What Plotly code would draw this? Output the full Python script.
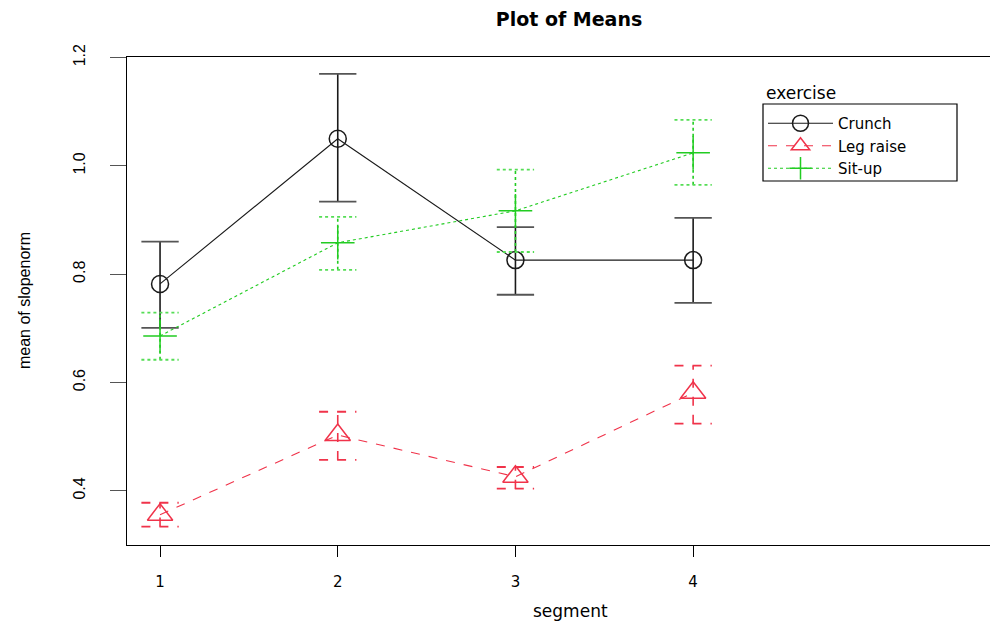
import plotly.graph_objects as go

segments = [1, 2, 3, 4]
tick_labels = ["1", "2", "3", "4"]

crunch_mean = [0.782, 1.050, 0.826, 0.826]
crunch_lo = [0.701, 0.934, 0.762, 0.747]
crunch_hi = [0.860, 1.170, 0.887, 0.904]

legraise_mean = [0.356, 0.503, 0.426, 0.581]
legraise_lo = [0.334, 0.457, 0.404, 0.524]
legraise_hi = [0.378, 0.546, 0.444, 0.631]

situp_mean = [0.686, 0.858, 0.917, 1.024]
situp_lo = [0.642, 0.808, 0.841, 0.965]
situp_hi = [0.729, 0.906, 0.993, 1.085]

CAP = 0.105
FONT_H = "DejaVu Sans"
FONT_V = "Liberation Sans"

series = [
    ("Crunch", crunch_mean, crunch_lo, crunch_hi, "#1a1a1a", "solid", "circle-open", 17, "#555555", "solid"),
    ("Leg raise", legraise_mean, legraise_lo, legraise_hi, "#f0334a", "dash", "triangle-up-open", 22, "#f0334a", "dash"),
    ("Sit-up", situp_mean, situp_lo, situp_hi, "#22cc22", "dot", "cross-thin-open", 24, "#55dd55", "dot"),
]

fig = go.Figure()

for name, m, lo, hi, col, dash, sym, size, capcol, edash in series:
    vx, vy, cx, cy = [], [], [], []
    for x, a, b in zip(segments, lo, hi):
        vx += [x, x, None]
        vy += [a, b, None]
        cx += [x - CAP, x + CAP, None, x - CAP, x + CAP, None]
        cy += [b, b, None, a, a, None]
    fig.add_trace(go.Scatter(x=vx, y=vy, mode="lines", showlegend=False, hoverinfo="skip",
                             line=dict(color=col, width=1.6, dash=edash)))
    fig.add_trace(go.Scatter(x=cx, y=cy, mode="lines", showlegend=False, hoverinfo="skip",
                             line=dict(color=capcol, width=1.8, dash=edash)))
    fig.add_trace(go.Scatter(x=segments, y=m, mode="lines+markers", name=name,
                             line=dict(color=col, width=1.1, dash=dash),
                             marker=dict(symbol=sym, size=size, color=col, line=dict(width=1.5, color=col))))

W, H = 990, 614
fig.update_layout(
    width=W, height=H,
    margin=dict(l=119, r=1, t=49, b=77),
    paper_bgcolor="white", plot_bgcolor="white",
    title=dict(text="<b>Plot of Means</b>", x=561 / W, xanchor="center", y=1 - 11 / H, yanchor="middle",
               font=dict(family=FONT_H, size=19, color="black")),
    showlegend=True,
    legend=dict(x=(763 - 127) / 870, y=(545 - 107) / 488, xanchor="left", yanchor="top",
                borderwidth=0, bgcolor="rgba(0,0,0,0)",
                font=dict(family=FONT_H, size=15, color="black"),
                itemwidth=65, tracegroupgap=0),
)

# legend frame
fig.add_shape(type="rect", xref="paper", yref="paper",
              x0=(763 - 127) / 870, x1=(957 - 127) / 870, y0=(545 - 181) / 488, y1=(545 - 104) / 488,
              line=dict(color="black", width=1.2), fillcolor="white", layer="below")

fig.update_xaxes(range=[0.814, 5.71], tickmode="array", tickvals=segments, ticktext=tick_labels,
                 showgrid=False, zeroline=False, showline=True, linecolor="black", linewidth=1.3,
                 mirror=True, ticks="outside", ticklen=11, tickcolor="black",
                 tickfont=dict(family=FONT_H, size=15, color="black"), ticklabelstandoff=12)
fig.update_yaxes(range=[0.30, 1.201], tickmode="array", tickvals=[0.4, 0.6, 0.8, 1.0, 1.2],
                 ticktext=["0.4", "0.6", "0.8", "1.0", "1.2"],
                 showgrid=False, zeroline=False, showline=True, linecolor="black", linewidth=1.3,
                 mirror=True, ticks="outside", ticklen=16, tickcolor="#555555", tickangle=-90,
                 tickfont=dict(family=FONT_V, size=16, color="black"), ticklabelstandoff=18)

fig.add_annotation(text="segment", xref="paper", yref="paper", x=(570 - 127) / 870, y=-(611 - 545) / 488,
                   xanchor="center", yanchor="middle", showarrow=False,
                   font=dict(family=FONT_H, size=17, color="black"))
fig.add_annotation(text="mean of slopenorm", xref="paper", yref="paper", x=-(127 - 24) / 870,
                   y=(545 - 301) / 488, xanchor="center", yanchor="middle", showarrow=False, textangle=-90,
                   font=dict(family=FONT_V, size=16, color="black"))
fig.add_annotation(text="exercise", xref="paper", yref="paper", x=(764 - 127) / 870, y=(545 - 93) / 488,
                   xanchor="left", yanchor="middle", showarrow=False,
                   font=dict(family=FONT_H, size=17, color="black"))

fig.write_html("out.html")
